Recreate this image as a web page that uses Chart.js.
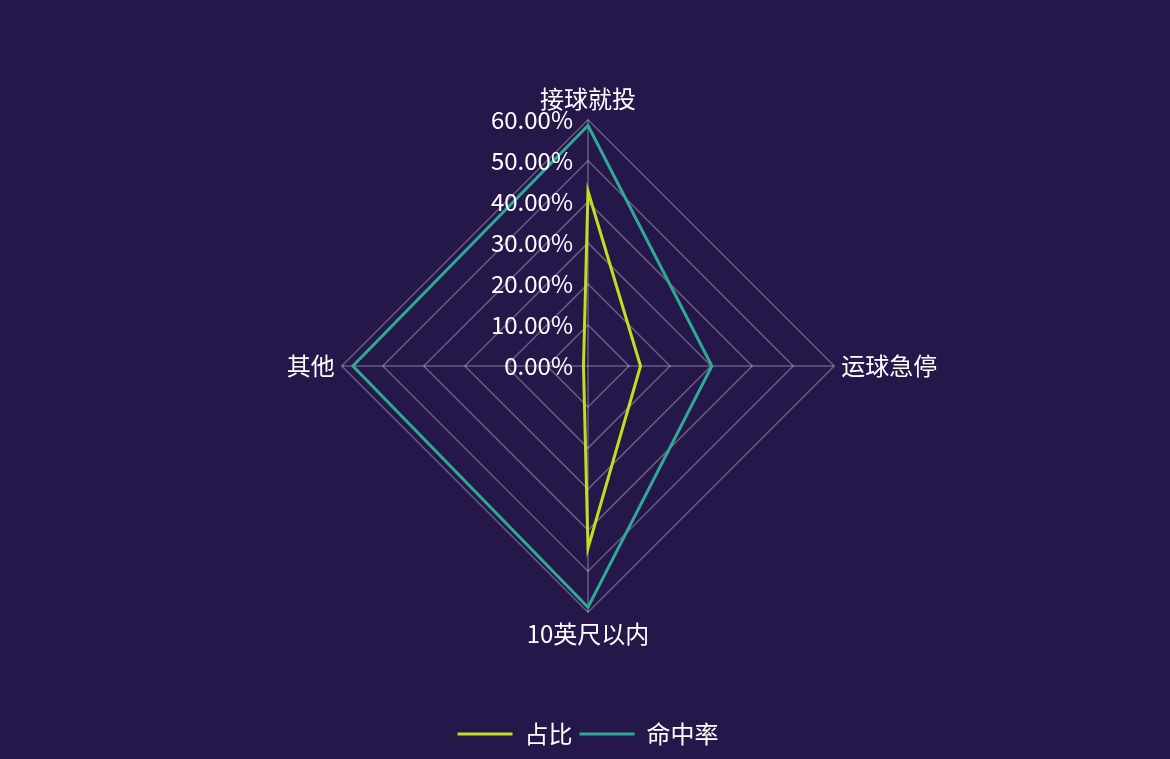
<!DOCTYPE html>
<html>
<head>
<meta charset="utf-8">
<script src="https://cdn.jsdelivr.net/npm/chart.js@4/dist/chart.umd.min.js"></script>
<style>
  html, body { margin: 0; padding: 0; background: #26174b; }
  #wrap { width: 1170px; height: 759px; }
</style>
</head>
<body>
<div id="wrap"><canvas id="myChart"></canvas></div>
<script>
const categories = ['接球就投', '运球急停', '10英尺以内', '其他'];
const shareValues = [42.6, 12.8, 44.4, 1.1];
const hitRateValues = [58.6, 30.2, 58.8, 57.3];
const tickLabels = ['0.00%', '10.00%', '20.00%', '30.00%', '40.00%', '50.00%', '60.00%'];

const FONT = '"Noto Sans CJK SC", "Noto Sans", sans-serif';

// tick labels sit left of the top axis, right aligned
const tickPlugin = {
  id: 'leftTicks',
  afterDatasetsDraw(chart) {
    const scale = chart.scales.r;
    const ctx = chart.ctx;
    ctx.save();
    ctx.font = '24px ' + FONT;
    ctx.fillStyle = '#ffffff';
    ctx.textAlign = 'right';
    ctx.textBaseline = 'middle';
    scale.ticks.forEach(function (t, i) {
      const d = scale.getDistanceFromCenterForValue(t.value);
      ctx.fillText(tickLabels[i], scale.xCenter - 15, scale.yCenter - d);
    });
    ctx.restore();
  }
};

window.addEventListener('load', iniciar, false);

function iniciar() {
  const grafica = document.getElementById('myChart');
  new Chart(grafica, {
    type: 'radar',
    data: {
      labels: categories,
      datasets: [{
        label: '占比',
        data: shareValues,
        borderColor: '#c3dd1f',
        backgroundColor: '#c3dd1f',
        borderWidth: 3,
        pointRadius: 0,
        fill: false,
        pointStyle: 'line'
      }, {
        label: '命中率',
        data: hitRateValues,
        borderColor: '#2eaa94',
        backgroundColor: '#2eaa94',
        borderWidth: 3,
        pointRadius: 0,
        fill: false,
        pointStyle: 'line'
      }]
    },
    options: {
      responsive: true,
      maintainAspectRatio: false,
      animation: false,
      layout: { padding: { top: 84, bottom: 3, left: 6 } },
      plugins: {
        legend: {
          position: 'bottom',
          title: { display: true, text: '', font: { size: 1 }, padding: { top: 64, bottom: 0 } },
          labels: {
            usePointStyle: true,
            pointStyleWidth: 55,
            padding: 7,
            color: '#ffffff',
            font: { size: 24, family: FONT }
          }
        },
        tooltip: { enabled: false }
      },
      scales: {
        r: {
          min: 0,
          max: 60,
          ticks: { stepSize: 10, display: false },
          grid: { color: 'rgba(255,255,255,0.3)', lineWidth: 1.5, circular: false },
          angleLines: { color: 'rgba(255,255,255,0.3)', lineWidth: 1.5 },
          pointLabels: {
            color: '#ffffff',
            padding: 7,
            font: { size: 24, family: FONT }
          }
        }
      }
    },
    plugins: [tickPlugin]
  });
}
</script>
</body>
</html>
